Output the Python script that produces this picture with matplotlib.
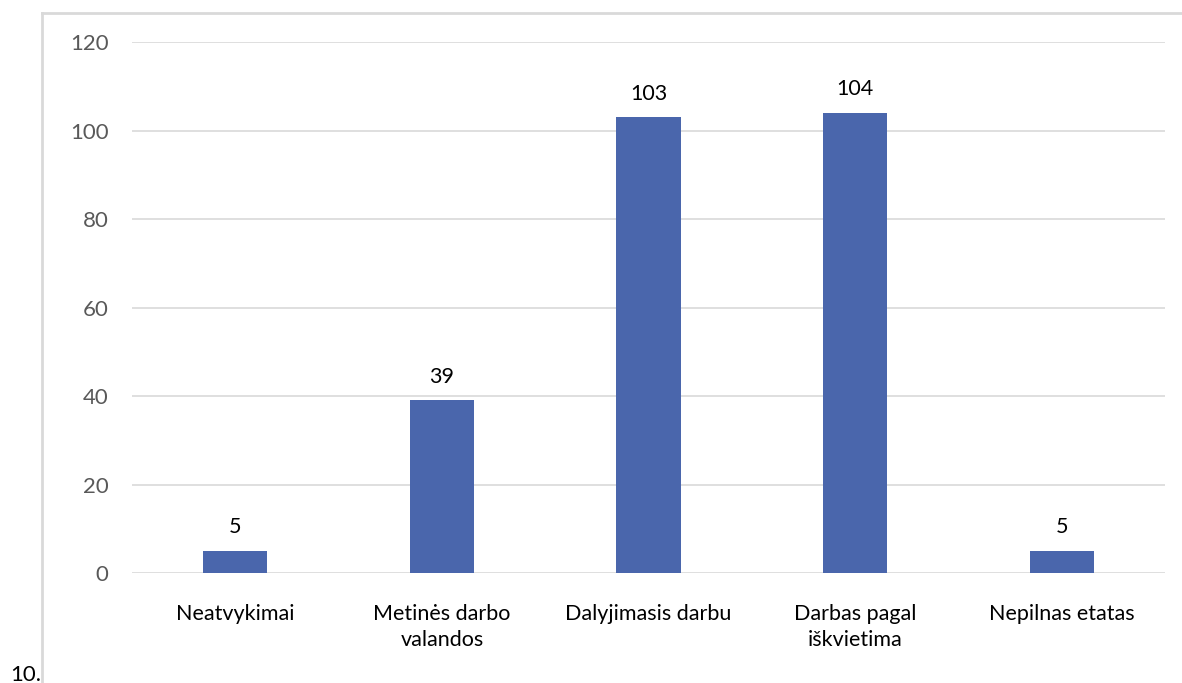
import matplotlib
matplotlib.use("Agg")
import matplotlib.pyplot as plt
from matplotlib.lines import Line2D

categories = ["Neatvykimai", "Metinės darbo\nvalandos", "Dalyjimasis darbu",
              "Darbas pagal\niškvietima", "Nepilnas etatas"]
values = [5, 39, 103, 104, 5]
y_ticks = [0, 20, 40, 60, 80, 100, 120]

plt.rcParams["font.family"] = ["Lato", "DejaVu Sans"]

fig = plt.figure(figsize=(11.82, 6.83), dpi=100)
ax = fig.add_axes([0.1117, 0.161, 0.8739, 0.7775])

x = range(len(categories))
ax.bar(x, values, width=0.31, color="#4A66AC", zorder=3)
for xi, v in zip(x, values):
    ax.annotate(str(v), (xi, v), xytext=(0, 17), textcoords="offset points",
                ha="center", va="center", fontsize=15.5, color="#000000")

ax.set_xlim(-0.5, len(categories) - 0.5)
ax.set_ylim(0, 120)
ax.set_yticks(y_ticks)
ax.set_xticks(list(x))
ax.set_xticklabels(categories, fontsize=15.5, color="#000000", linespacing=1.4)
ax.tick_params(axis="y", labelsize=16, labelcolor="#595959", length=0, pad=17)
ax.tick_params(axis="x", length=0, pad=22)
ax.grid(axis="y", color="#D9D9D9", linewidth=1.2, zorder=0)
for s in ax.spines.values():
    s.set_visible(False)

# outer chart frame
frame_color = "#D9D9D9"
fig.add_artist(Line2D([42 / 1182, 42 / 1182], [0, 1 - 13 / 683], color=frame_color, lw=2))
fig.add_artist(Line2D([42 / 1182, 1], [1 - 13 / 683, 1 - 13 / 683], color=frame_color, lw=2))

fig.text(10 / 1182, 2 / 683, "10.", fontsize=16, color="#000000", ha="left", va="baseline")

fig.savefig("out.png", dpi=100)
